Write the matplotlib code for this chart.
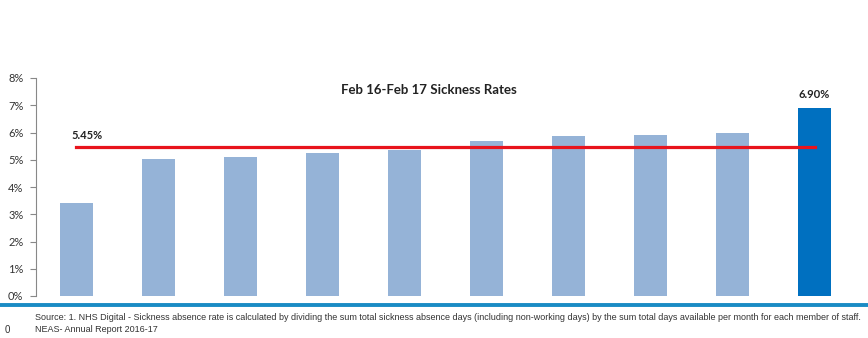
import matplotlib
matplotlib.use("Agg")
import matplotlib.pyplot as plt
from matplotlib.lines import Line2D

# Sickness rates Feb 16 - Feb 17 (%), last bar is NEAS
rates = [3.41, 5.03, 5.10, 5.25, 5.36, 5.69, 5.87, 5.91, 5.98, 6.90]
bar_colors = ['#95b3d7'] * 9 + ['#0070c0']
average = 5.45
yticks = [0, 1, 2, 3, 4, 5, 6, 7, 8]
title = "Feb 16-Feb 17 Sickness Rates"
note1 = ("Source: 1. NHS Digital - Sickness absence rate is calculated by dividing the sum total sickness absence days "
         "(including non-working days) by the sum total days available per month for each member of staff.")
note2 = "NEAS- Annual Report 2016-17"

plt.rcParams['font.family'] = ['Lato', 'DejaVu Sans']

fig = plt.figure(figsize=(8.68, 3.38), dpi=100)
ax = fig.add_axes([36 / 868, 1 - 296 / 338, (858 - 36) / 868, (296 - 78) / 338])

x = list(range(len(rates)))
ax.bar(x, rates, width=0.4, color=bar_colors, zorder=2)
ax.plot([x[0], x[-1]], [average, average], color='#e8141c', lw=2.3, zorder=3)

ax.text(x[0] - 0.06, average + 0.25, f"{average:.2f}%", fontsize=8, fontweight='bold',
        color='#222222', ha='left', va='bottom')
ax.text(x[-1], rates[-1] + 0.3, f"{rates[-1]:.2f}%", fontsize=8, fontweight='bold',
        color='#222222', ha='center', va='bottom')
ax.text(4.3, 7.55, title, fontsize=9.5, fontweight='bold', color='#222222', ha='center', va='center')

ax.set_xlim(-0.49, 9.53)
ax.set_ylim(0, 8)
ax.set_yticks(yticks)
ax.set_yticklabels([f"{t}%" for t in yticks], fontsize=8, color='#333333')
ax.set_xticks([])
for s in ['top', 'right', 'bottom']:
    ax.spines[s].set_visible(False)
ax.spines['left'].set_color('#888888')
ax.spines['left'].set_linewidth(0.8)
ax.tick_params(axis='y', length=4, width=0.8, color='#888888', pad=5)

# blue divider line
fig.add_artist(Line2D([0, 1], [1 - 305 / 338, 1 - 305 / 338], transform=fig.transFigure,
                      color='#1a8bc4', lw=2.8))

narrow = ['Liberation Sans Narrow', 'Liberation Sans', 'DejaVu Sans']
fig.text(35 / 868, 1 - 318 / 338, note1, fontsize=6.5, family=narrow, color='#333333', va='center')
fig.text(35 / 868, 1 - 329 / 338, note2, fontsize=6.5, family=narrow, color='#333333', va='center')
fig.text(5 / 868, 1 - 330 / 338, "0", fontsize=7, family=narrow, color='#333333', va='center')

fig.savefig("out.png", dpi=100)
